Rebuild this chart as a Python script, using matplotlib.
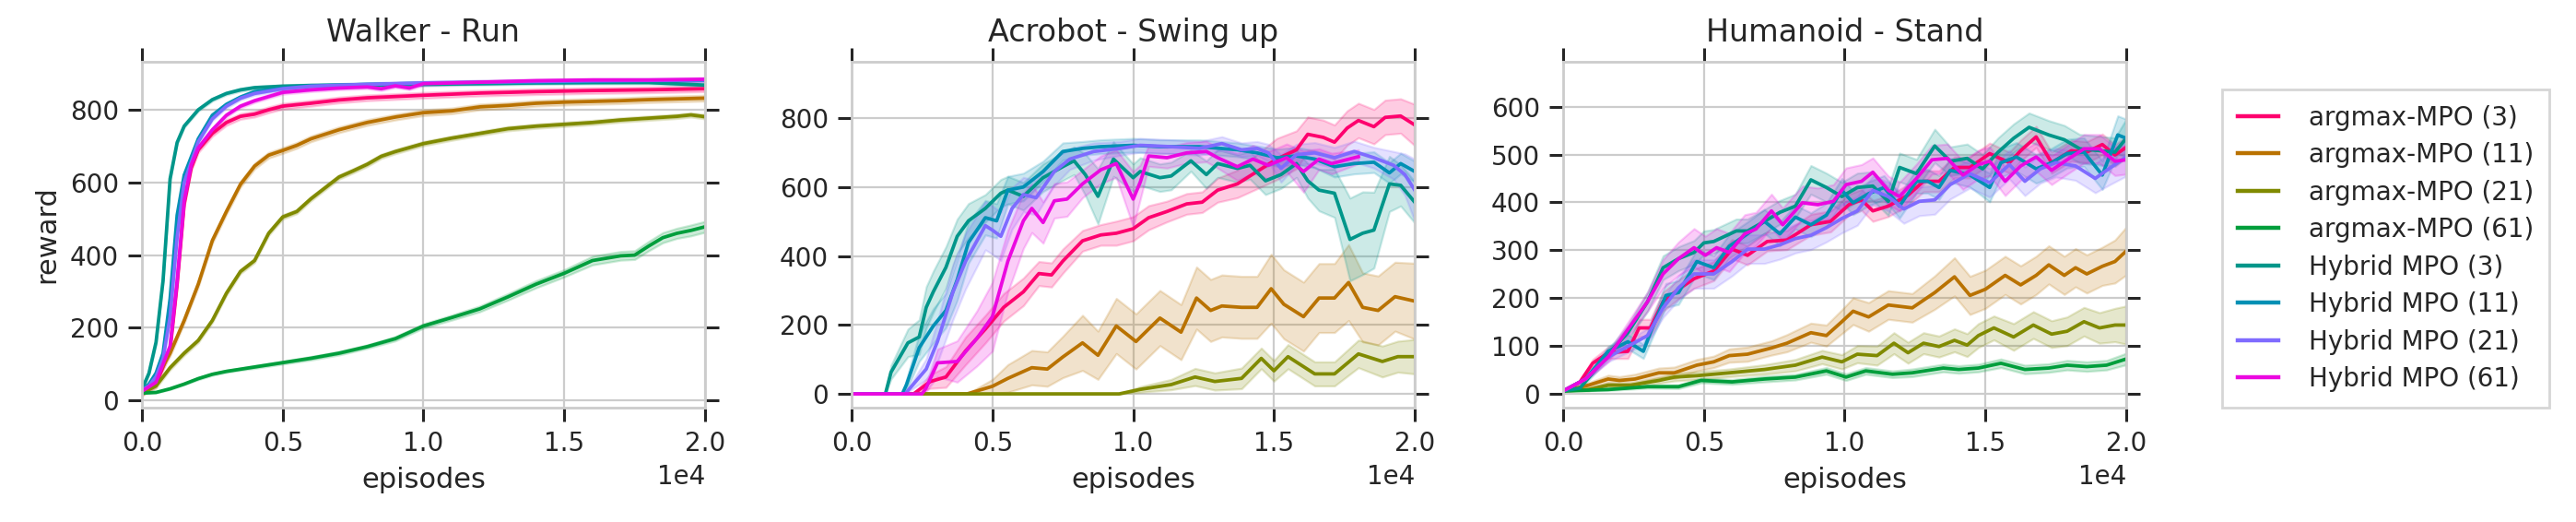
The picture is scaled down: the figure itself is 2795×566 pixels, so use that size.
import numpy as np
import matplotlib
matplotlib.use("Agg")
import matplotlib.pyplot as plt

# ---- series names / colours -------------------------------------------
labels = ['argmax-MPO (3)', 'argmax-MPO (11)', 'argmax-MPO (21)', 'argmax-MPO (61)',
          'Hybrid MPO (3)', 'Hybrid MPO (11)', 'Hybrid MPO (21)', 'Hybrid MPO (61)']
colors = ['#fe006e', '#b97200', '#808a00', '#009e3c',
          '#00968a', '#0090b4', '#7f6bff', '#eb08e0']

# ---- Walker - Run -------------------------------------------------------
walker_arg3_x = [0, 500, 1000, 1250, 1500, 1750, 2000, 2500, 3000, 3500, 4000, 4500, 5000, 6000,
                 7000, 8000, 10000, 12000, 14000, 16000, 18000, 20000]
walker_arg3_y = [22, 45, 140, 320, 540, 640, 690, 735, 765, 782, 788, 800, 810, 818,
                 827, 833, 840, 846, 850, 853, 855, 858]
walker_arg11_x = [0, 500, 1000, 1500, 2000, 2500, 3000, 3500, 4000, 4500, 5000, 5500, 6000, 7000,
                  8000, 9000, 10000, 11000, 12000, 13000, 14000, 15000, 16000, 17000, 18000, 19000, 20000]
walker_arg11_y = [20, 60, 130, 220, 320, 440, 520, 595, 645, 675, 688, 702, 720, 745,
                  765, 780, 792, 797, 808, 812, 818, 821, 823, 825, 828, 830, 832]
walker_arg21_x = [0, 500, 1000, 1500, 2000, 2500, 3000, 3500, 4000, 4500, 5000, 5500, 6000, 6500,
                  7000, 7500, 8000, 8500, 9000, 10000, 11000, 12000, 13000, 14000, 15000, 16000,
                  17000, 18000, 19000, 19500, 20000]
walker_arg21_y = [20, 40, 90, 130, 165, 220, 295, 355, 385, 460, 505, 520, 555, 585,
                  615, 632, 650, 672, 685, 707, 722, 735, 748, 755, 760, 765,
                  772, 777, 782, 786, 781]
walker_arg61_x = [0, 500, 1000, 1500, 2000, 2500, 3000, 3500, 4000, 5000, 6000, 7000, 8000, 9000,
                  10000, 11000, 12000, 13000, 14000, 15000, 16000, 17000, 17500, 18000, 18500,
                  19000, 19500, 20000]
walker_arg61_y = [20, 22, 32, 45, 60, 72, 80, 86, 92, 104, 116, 130, 148, 170,
                  205, 228, 252, 285, 320, 350, 385, 398, 400, 425, 448,
                  460, 468, 478]
walker_arg61_s = [0, 1, 2, 2, 3, 3, 3, 3, 4, 4, 5, 5, 5, 6,
                  6, 7, 8, 9, 10, 10, 12, 12, 12, 13, 14,
                  14, 15, 15]
walker_hyb_x = [0, 250, 500, 750, 1000, 1250, 1500, 2000, 2500, 3000, 3500, 4000, 5000, 6000,
                8000, 10000, 12000, 14000, 16000, 18000, 20000]
walker_hyb3_y = [30, 75, 160, 330, 610, 710, 755, 800, 828, 845, 855, 861, 865, 867,
                 868, 870, 872, 874, 875, 875, 868]
walker_hyb11_y = [28, 45, 75, 130, 280, 510, 620, 720, 785, 815, 835, 850, 860, 866,
                  870, 873, 875, 876, 878, 880, 881]
walker_hyb21_y = [28, 40, 65, 115, 230, 450, 600, 712, 775, 810, 832, 845, 858, 865,
                  870, 874, 876, 878, 880, 881, 882]
walker_hyb61_x = [0, 500, 750, 1000, 1250, 1500, 1750, 2000, 2500, 3000, 3500, 4000, 5000, 6000,
                  7000, 8000, 8500, 9000, 9500, 10000, 12000, 14000, 16000, 18000, 20000]
walker_hyb61_y = [25, 50, 100, 150, 330, 550, 648, 695, 745, 785, 810, 825, 848, 855,
                  860, 863, 858, 866, 860, 872, 876, 880, 882, 882, 884]

# ---- Acrobot - Swing up -------------------------------------------------
acro_arg3_x = [0, 2200, 2800, 3350, 4050, 4750, 5400, 6100, 6650, 7100,
               7500, 8200, 8850, 9400, 10000, 10550, 11200, 11900, 12450, 13000,
               13700, 14400, 15100, 15800, 16200, 16750, 17150, 17600, 18000, 18550,
               18950, 19500, 20000]
acro_arg3_y = [0, 0, 36, 49, 125, 188, 251, 296, 349, 345,
               385, 444, 461, 466, 479, 511, 529, 551, 556, 591,
               609, 645, 681, 708, 753, 744, 730, 771, 793, 775,
               802, 806, 780]
acro_arg3_s = [0, 0, 20, 30, 40, 40, 40, 40, 35, 35,
               35, 30, 30, 35, 35, 35, 30, 30, 30, 35,
               40, 50, 60, 55, 50, 50, 50, 50, 50, 50,
               50, 50, 60]
acro_arg11_x = [0, 4100, 5000, 5550, 6400, 6950, 7500, 8200, 8750, 9400,
                10100, 10950, 11700, 12250, 12750, 13150, 13850, 14400, 14900, 15350,
                16050, 16600, 17150, 17650, 18150, 18700, 19300, 20000]
acro_arg11_y = [0, 0, 22, 45, 76, 72, 107, 148, 112, 197,
                152, 220, 179, 278, 242, 255, 251, 251, 305, 260,
                224, 278, 278, 323, 251, 242, 282, 269]
acro_arg11_s = [0, 0, 20, 40, 50, 50, 60, 80, 70, 80,
                80, 80, 80, 90, 90, 90, 90, 90, 100, 100,
                100, 100, 100, 110, 100, 100, 100, 110]
acro_arg21_x = [0, 9500, 10250, 11350, 12200, 12900, 13850, 14550, 15000, 15500,
                16450, 17150, 18000, 18850, 19400, 20000]
acro_arg21_y = [0, 0, 13, 27, 49, 36, 45, 103, 67, 108,
                58, 58, 116, 94, 108, 108]
acro_arg21_s = [0, 0, 8, 15, 25, 25, 30, 30, 30, 35,
                35, 35, 40, 45, 45, 50]
acro_hyb3_x = [0, 1200, 1400, 2000, 2400, 2650, 2900, 3350, 3750, 4150,
               4750, 5300, 5550, 6100, 6800, 7500, 7900, 8300, 8750, 9300,
               10000, 10250, 10950, 11350, 12050, 12600, 13000, 13700, 14150, 14700,
               15250, 15800, 16200, 16600, 17150, 17700, 18150, 18550, 19100, 19500,
               20000]
acro_hyb3_y = [0, 0, 63, 148, 165, 251, 296, 367, 457, 502,
               538, 582, 591, 573, 627, 659, 676, 636, 573, 681,
               627, 645, 627, 632, 676, 636, 668, 654, 663, 618,
               636, 668, 618, 591, 582, 448, 466, 475, 609, 605,
               556]
acro_hyb3_s = [0, 0, 20, 40, 50, 60, 60, 60, 50, 50,
               40, 40, 40, 40, 40, 40, 40, 60, 80, 50,
               40, 40, 40, 40, 30, 40, 40, 40, 40, 40,
               40, 40, 50, 60, 70, 120, 120, 110, 80, 60,
               60]
acro_hyb11_x = [0, 1800, 1950, 2400, 2900, 3350, 3750, 4150, 4750, 5150,
                5550, 6100, 6800, 7500, 8200, 8850, 10000, 10950, 12350, 13700,
                14400, 15100, 15800, 16450, 17150, 17850, 18550, 19100, 19500, 20000]
acro_hyb11_y = [0, 0, 27, 134, 197, 242, 331, 439, 511, 502,
                591, 600, 645, 703, 712, 717, 721, 717, 717, 708,
                699, 685, 690, 681, 659, 668, 672, 641, 668, 645]
acro_hyb11_s = [0, 0, 15, 40, 50, 50, 60, 60, 50, 50,
                40, 40, 30, 25, 20, 20, 20, 20, 20, 20,
                20, 25, 25, 25, 30, 30, 30, 30, 30, 30]
acro_hyb21_x = [0, 1900, 2650, 3050, 3600, 4050, 4750, 5000, 5300, 5700,
                6100, 6550, 7200, 7750, 8600, 9550, 10250, 11350, 12350, 13150,
                13850, 14400, 14800, 15250, 15800, 16450, 17150, 17850, 18550, 19250,
                19650, 20000]
acro_hyb21_y = [0, 0, 72, 152, 296, 385, 488, 475, 457, 538,
                578, 569, 645, 681, 703, 712, 721, 717, 712, 726,
                708, 712, 699, 654, 694, 699, 685, 703, 685, 663,
                636, 591]
acro_hyb21_s = [0, 0, 30, 60, 80, 80, 70, 70, 70, 60,
                50, 50, 40, 30, 25, 20, 20, 20, 20, 20,
                20, 20, 25, 40, 30, 30, 30, 30, 30, 40,
                60, 90]
acro_hyb61_x = [0, 2500, 2650, 3050, 3750, 4450, 5000, 5550, 6100, 6400,
                6800, 7200, 7650, 8200, 8850, 9400, 10000, 10250, 10550, 11200,
                11900, 12600, 13000, 13700, 14250, 14800, 15450, 16050, 16600, 17050,
                18000]
acro_hyb61_y = [0, 0, 18, 90, 94, 161, 224, 385, 502, 538,
                497, 560, 565, 609, 650, 668, 565, 614, 690, 685,
                699, 703, 685, 659, 681, 663, 685, 645, 681, 668,
                688]
acro_hyb61_s = [0, 0, 10, 40, 60, 80, 100, 90, 80, 70,
                60, 50, 50, 40, 40, 40, 80, 50, 30, 30,
                30, 30, 30, 40, 40, 40, 40, 60, 30, 30,
                20]

# ---- Humanoid - Stand ---------------------------------------------------
hum_arg3_x = [0, 600, 1050, 1600, 2300, 2700, 3100, 3550, 4100, 4650,
              5350, 6000, 6550, 7250, 7950, 8800, 9500, 10150, 10600, 11000,
              11550, 12250, 12800, 13350, 13900, 14450, 15150, 15850, 16250, 16800,
              17350, 18050, 18600, 19150, 19600, 20000]
hum_arg3_y = [5, 24, 63, 85, 88, 137, 137, 192, 218, 240,
              256, 302, 289, 318, 321, 353, 360, 395, 405, 382,
              392, 415, 444, 444, 473, 473, 502, 483, 508, 537,
              483, 508, 505, 521, 499, 515]
hum_arg3_s = [0, 3, 8, 12, 15, 18, 18, 20, 20, 20,
              20, 20, 20, 20, 20, 22, 22, 22, 22, 22,
              22, 22, 22, 22, 22, 22, 22, 22, 22, 22,
              22, 22, 22, 22, 22, 22]
hum_arg11_x = [0, 900, 1600, 2000, 2550, 3400, 3950, 4750, 5350, 5900,
               6550, 7400, 7950, 8800, 9350, 9900, 10300, 10850, 11550, 12400,
               13200, 13900, 14450, 15000, 15700, 16250, 16800, 17250, 17800, 18200,
               18600, 19150, 19600, 20000]
hum_arg11_y = [5, 17, 30, 27, 30, 43, 43, 59, 66, 79,
               82, 95, 105, 127, 121, 150, 172, 160, 185, 179,
               211, 244, 205, 218, 247, 227, 247, 269, 247, 263,
               250, 266, 276, 298]
hum_arg11_s = [0, 5, 8, 8, 10, 10, 12, 12, 12, 14,
               15, 15, 18, 20, 22, 25, 28, 30, 30, 30,
               35, 40, 40, 40, 40, 40, 40, 40, 40, 40,
               40, 40, 45, 50]
hum_arg21_x = [0, 900, 1600, 2400, 3400, 3950, 4750, 5900, 7150, 8250,
               9200, 9900, 10450, 11150, 11750, 12250, 12800, 13350, 13900, 14350,
               14750, 15300, 16000, 16700, 17350, 17900, 18500, 19050, 19600, 20000]
hum_arg21_y = [5, 8, 17, 17, 27, 34, 37, 43, 50, 59,
               76, 66, 82, 79, 105, 85, 105, 98, 111, 101,
               121, 137, 118, 143, 124, 130, 150, 137, 143, 143]
hum_arg21_s = [0, 3, 5, 5, 6, 8, 8, 8, 10, 12,
               14, 15, 18, 20, 22, 22, 22, 22, 24, 24,
               25, 25, 28, 28, 28, 30, 30, 32, 35, 40]
hum_arg61_x = [0, 1600, 3000, 4100, 4900, 6000, 7150, 8250, 9350, 10050,
               10750, 11700, 12400, 13500, 14050, 14750, 15550, 16400, 17250, 17900,
               18600, 19300, 20000]
hum_arg61_y = [5, 8, 14, 14, 27, 24, 30, 34, 47, 34,
               47, 40, 43, 53, 50, 53, 63, 50, 53, 59,
               56, 59, 72]
hum_arg61_s = [0, 2, 3, 4, 5, 5, 6, 6, 7, 7,
               7, 7, 8, 8, 8, 8, 9, 9, 9, 10,
               10, 10, 12]
hum_hyb3_x = [0, 600, 1600, 2300, 3000, 3550, 4100, 4650, 5000, 5350,
              6150, 6550, 7150, 7700, 8250, 8800, 9350, 9900, 10450, 11000,
              11550, 11950, 12550, 13200, 13750, 14350, 14900, 15450, 16000, 16550,
              17250, 17800, 18350, 19050, 19600, 20000]
hum_hyb3_y = [5, 11, 82, 127, 192, 263, 282, 295, 315, 318,
              340, 340, 360, 379, 392, 447, 431, 412, 431, 434,
              402, 473, 460, 518, 486, 492, 470, 505, 534, 557,
              541, 531, 512, 508, 505, 534]
hum_hyb3_s = [0, 3, 10, 15, 20, 25, 25, 25, 25, 25,
              25, 25, 25, 25, 25, 30, 30, 30, 30, 30,
              30, 30, 30, 35, 30, 30, 30, 30, 30, 30,
              30, 30, 30, 30, 30, 40]
hum_hyb11_x = [0, 800, 1600, 2300, 2850, 3100, 3650, 4100, 4750, 5350,
               5900, 6550, 7150, 7700, 8250, 8800, 9350, 9900, 10300, 10850,
               11400, 11950, 12550, 12950, 13350, 13750, 14450, 15150, 15550, 16100,
               16800, 17350, 17900, 18500, 19150, 19700, 20000]
hum_hyb11_y = [5, 30, 88, 108, 88, 127, 205, 211, 276, 263,
               308, 334, 360, 334, 369, 353, 373, 425, 399, 418,
               431, 392, 444, 444, 431, 467, 457, 431, 483, 495,
               470, 483, 502, 505, 457, 541, 534]
hum_hyb11_s = [0, 3, 10, 15, 15, 20, 25, 25, 25, 25,
               25, 25, 25, 25, 25, 25, 25, 25, 25, 25,
               25, 25, 25, 25, 25, 25, 25, 30, 30, 30,
               30, 30, 30, 30, 30, 40, 40]
hum_hyb21_x = [0, 800, 1600, 3000, 3550, 4100, 4650, 5350, 6000, 6550,
               7150, 7700, 8250, 8800, 9350, 9900, 10450, 11000, 11550, 12100,
               12650, 13200, 13750, 14450, 15150, 15850, 16400, 16950, 17500, 18200,
               18900, 19450, 20000]
hum_hyb21_y = [5, 30, 76, 121, 179, 221, 250, 250, 276, 302,
               302, 311, 324, 331, 347, 366, 382, 425, 412, 386,
               402, 405, 437, 460, 441, 479, 444, 470, 483, 476,
               450, 473, 495]
hum_hyb21_s = [0, 3, 10, 15, 20, 25, 30, 30, 30, 30,
               30, 30, 30, 30, 30, 30, 30, 30, 30, 30,
               30, 30, 30, 30, 30, 30, 30, 30, 30, 30,
               30, 35, 40]
hum_hyb61_x = [0, 800, 1600, 2300, 3000, 3550, 4100, 4650, 5050, 5450,
               5900, 6450, 6850, 7400, 7800, 8500, 9050, 9600, 10050, 10600,
               11000, 11550, 11950, 12550, 13100, 13650, 14200, 14750, 15150, 15700,
               16250, 16800, 17350, 17900, 18500, 19050, 19600, 20000]
hum_hyb61_y = [5, 30, 76, 134, 192, 250, 282, 305, 289, 305,
               295, 334, 344, 382, 353, 399, 395, 402, 437, 444,
               463, 425, 412, 450, 489, 492, 457, 479, 486, 444,
               476, 495, 467, 489, 512, 512, 486, 489]
hum_hyb61_s = [0, 3, 10, 15, 20, 30, 35, 40, 40, 40,
               40, 40, 35, 35, 35, 35, 35, 35, 35, 35,
               30, 30, 30, 30, 30, 30, 30, 30, 30, 30,
               30, 30, 30, 30, 30, 30, 30, 30]

# ---- panels -------------------------------------------------------------
panels = [
    dict(title='Walker - Run', ylim=(-20, 932), yticks=[0, 200, 400, 600, 800],
         series=[(walker_arg3_x, walker_arg3_y, 8, 0),
                 (walker_arg11_x, walker_arg11_y, 8, 1),
                 (walker_arg21_x, walker_arg21_y, 6, 2),
                 (walker_arg61_x, walker_arg61_y, walker_arg61_s, 3),
                 (walker_hyb_x, walker_hyb3_y, 4, 4),
                 (walker_hyb_x, walker_hyb11_y, 4, 5),
                 (walker_hyb_x, walker_hyb21_y, 5, 6),
                 (walker_hyb61_x, walker_hyb61_y, 5, 7)]),
    dict(title='Acrobot - Swing up', ylim=(-40, 963), yticks=[0, 200, 400, 600, 800],
         series=[(acro_arg3_x, acro_arg3_y, acro_arg3_s, 0),
                 (acro_arg11_x, acro_arg11_y, acro_arg11_s, 1),
                 (acro_arg21_x, acro_arg21_y, acro_arg21_s, 2),
                 (acro_hyb3_x, acro_hyb3_y, acro_hyb3_s, 4),
                 (acro_hyb11_x, acro_hyb11_y, acro_hyb11_s, 5),
                 (acro_hyb21_x, acro_hyb21_y, acro_hyb21_s, 6),
                 (acro_hyb61_x, acro_hyb61_y, acro_hyb61_s, 7)]),
    dict(title='Humanoid - Stand', ylim=(-30, 694), yticks=[0, 100, 200, 300, 400, 500, 600],
         series=[(hum_arg3_x, hum_arg3_y, hum_arg3_s, 0),
                 (hum_arg11_x, hum_arg11_y, hum_arg11_s, 1),
                 (hum_arg21_x, hum_arg21_y, hum_arg21_s, 2),
                 (hum_arg61_x, hum_arg61_y, hum_arg61_s, 3),
                 (hum_hyb3_x, hum_hyb3_y, hum_hyb3_s, 4),
                 (hum_hyb11_x, hum_hyb11_y, hum_hyb11_s, 5),
                 (hum_hyb21_x, hum_hyb21_y, hum_hyb21_s, 6),
                 (hum_hyb61_x, hum_hyb61_y, hum_hyb61_s, 7)]),
]

txt = '#262626'
plt.rcParams['font.family'] = 'DejaVu Sans'
plt.rcParams['text.color'] = txt
plt.rcParams['axes.labelcolor'] = txt

fig = plt.figure(figsize=(13.975, 2.83), dpi=200)
lefts = [0.0551, 0.3306, 0.6068]

handles = {}
for i, p in enumerate(panels):
    ax = fig.add_axes([lefts[i], 0.219, 0.2186, 0.6625])
    for xs, ys, sp, ci in p['series']:
        xs = np.array(xs, dtype=float)
        ys = np.array(ys, dtype=float)
        sp = np.broadcast_to(np.array(sp, dtype=float), ys.shape)
        ax.fill_between(xs, ys - sp, ys + sp, color=colors[ci], alpha=0.2, linewidth=0.8)
        line, = ax.plot(xs, ys, color=colors[ci], linewidth=1.35, label=labels[ci])
        handles.setdefault(ci, line)

    ax.set_xlim(0, 20000)
    ax.set_ylim(*p['ylim'])
    ax.set_xticks([0, 5000, 10000, 15000, 20000])
    ax.set_yticks(p['yticks'])
    ax.ticklabel_format(style='sci', axis='x', scilimits=(0, 0))
    ax.grid(True, color='#cccccc', linewidth=0.8)
    ax.set_axisbelow(True)
    for s in ax.spines.values():
        s.set_color('#cccccc')
        s.set_linewidth(1.0)
    ax.tick_params(which='major', direction='out', length=5.5, width=1.1, color=txt,
                   labelcolor=txt, labelsize=10, top=True, right=True,
                   labeltop=False, labelright=False)
    ax.xaxis.get_offset_text().set_fontsize(10)
    ax.xaxis.get_offset_text().set_color(txt)
    ax.set_title(p['title'], fontsize=12, pad=8, color=txt)
    ax.set_xlabel('episodes', fontsize=11)
    if i == 0:
        ax.set_ylabel('reward', fontsize=11)

leg = fig.legend([handles[k] for k in range(8)], labels, loc='upper left',
                 bbox_to_anchor=(0.8576, 0.8534), fontsize=10, frameon=True,
                 fancybox=False, edgecolor='#cccccc', handlelength=1.6,
                 handletextpad=1.2, labelspacing=0.45, borderpad=0.6)
leg.get_frame().set_linewidth(1.0)
for t in leg.get_texts():
    t.set_color(txt)
for l in leg.get_lines():
    l.set_linewidth(1.6)

fig.savefig('out.png', dpi=200)
